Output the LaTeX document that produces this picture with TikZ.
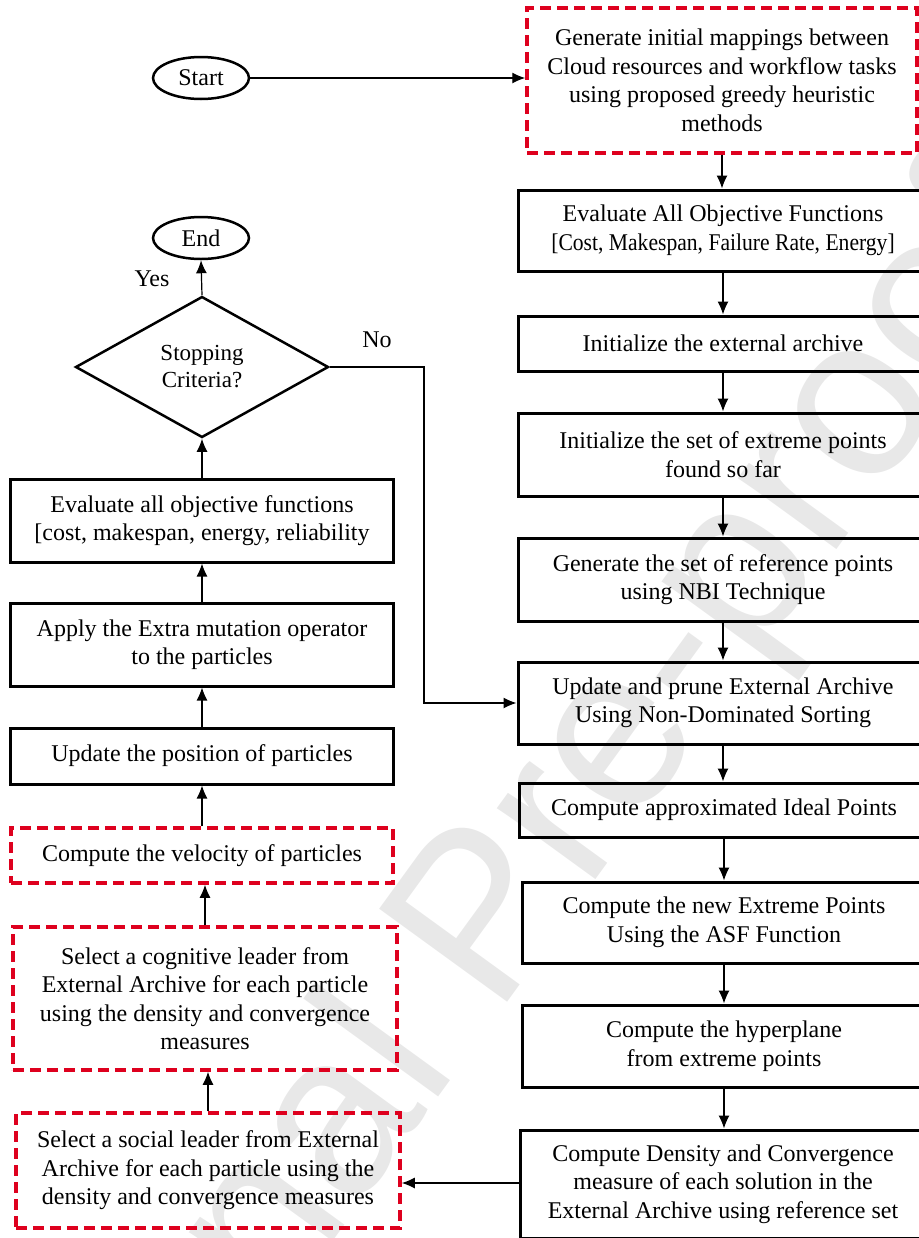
\documentclass[tikz,border=0pt]{standalone}
\usepackage{fontspec}
\usepackage{graphicx}
\setmainfont{Liberation Serif}
\newfontfamily\wmfont{Liberation Sans}
\usetikzlibrary{shapes.geometric,arrows.meta}
\definecolor{dashred}{RGB}{222,0,30}
\tikzset{
  txt/.style={font=\fontsize{24bp}{28.5bp}\selectfont, align=center, inner sep=0pt},
  box/.style={txt, draw, line width=3bp, rectangle},
  redbox/.style={txt, draw=dashred, line width=3.5bp, dash pattern=on 11bp off 6bp, rectangle},
  term/.style={txt, draw, ellipse, line width=2.5bp, minimum width=96bp, minimum height=42bp},
  decision/.style={txt, draw, diamond, line width=2.5bp, aspect=1.79, minimum width=253bp, minimum height=141bp, font=\fontsize{23bp}{27bp}\selectfont},
  arr/.style={line width=1.2bp, -{Latex[length=13bp,width=11bp]}},
  lbl/.style={txt},
}
\begin{document}
\begin{tikzpicture}[x=1bp,y=-1bp]
\useasboundingbox (0,0) rectangle (919,1238);
% watermark
\node[text=black!9, font=\wmfont\fontsize{230bp}{230bp}\selectfont, rotate=54, inner sep=0pt] (wm) at (490,925) {Journal Pre-proof};

% right column
\node[redbox, minimum width=390bp, minimum height=145bp] (b1) at (722,80.5) {Generate initial mappings between\\Cloud resources and workflow tasks\\using proposed greedy heuristic\\methods};
\node[box, minimum width=410bp, minimum height=81bp] (b2) at (723,230.5) {Evaluate All Objective Functions\\\scalebox{0.9}[1]{[Cost, Makespan, Failure Rate, Energy]}};
\node[box, minimum width=410bp, minimum height=55bp] (b3) at (723,343.5) {Initialize the external archive};
\node[box, minimum width=410bp, minimum height=83bp] (b4) at (723,454.5) {Initialize the set of extreme points\\found so far};
\node[box, minimum width=410bp, minimum height=83bp] (b5) at (723,579.5) {Generate the set of reference points\\using NBI Technique};
\node[box, minimum width=410bp, minimum height=82bp] (b6) at (723,703) {Update and prune External Archive\\Using Non-Dominated Sorting};
\node[box, minimum width=410bp, minimum height=54bp] (b7) at (724,810) {Compute approximated Ideal Points};
\node[box, minimum width=404bp, minimum height=81bp] (b8) at (724,922.5) {Compute the new Extreme Points\\Using the ASF Function};
\node[box, minimum width=404bp, minimum height=82bp] (b9) at (724,1046) {Compute the hyperplane\\from extreme points};
\node[box, minimum width=406bp, minimum height=108bp] (b10) at (723,1184) {Compute Density and Convergence\\measure of each solution in the\\External Archive using reference set};

% left column
\node[term] (start) at (201,78) {Start};
\node[term] (end) at (201,238) {End};
\node[decision] (dec) at (202,367) {Stopping\\Criteria?};
\node[box, minimum width=382bp, minimum height=83bp] (l1) at (202,520.5) {Evaluate all objective functions\\{[}cost, makespan, energy, reliability};
\node[box, minimum width=382bp, minimum height=83bp] (l2) at (202,644.5) {Apply the Extra mutation operator\\to the particles};
\node[box, minimum width=382bp, minimum height=56bp] (l3) at (202,756) {Update the position of particles};
\node[redbox, minimum width=382bp, minimum height=55bp] (l4) at (202,855.5) {Compute the velocity of particles};
\node[redbox, minimum width=384bp, minimum height=143bp] (l5) at (205,998.5) {Select a cognitive leader from\\External Archive for each particle\\using the density and convergence\\measures};
\node[redbox, minimum width=384bp, minimum height=115bp] (l6) at (208,1170.5) {Select a social leader from External\\Archive for each particle using the\\density and convergence measures};

\node[lbl] (yes) at (152,279) {Yes};
\node[lbl] (no) at (377,340) {No};
\coordinate (nc1) at (424,367);

% connectors right
\draw[arr] (start.east) -- (start.east -| b1.west);
\draw[arr] (b1.south) -- (b1.south |- b2.north);
\draw[arr] (b2.south) -- (b2.south |- b3.north);
\draw[arr] (b3.south) -- (b3.south |- b4.north);
\draw[arr] (b4.south) -- (b4.south |- b5.north);
\draw[arr] (b5.south) -- (b5.south |- b6.north);
\draw[arr] (b6.south) -- (b6.south |- b7.north);
\draw[arr] (b7.south) -- (b7.south |- b8.north);
\draw[arr] (b8.south) -- (b8.south |- b9.north);
\draw[arr] (b9.south) -- (b9.south |- b10.north);
\draw[arr] (b10.west |- 0,1183) -- (l6.east |- 0,1183);
% connectors left
\draw[arr] (l6.north) -- (l6.north |- l5.south);
\draw[arr] (l5.north) -- (l5.north |- l4.south);
\draw[arr] (l4.north) -- (l4.north |- l3.south);
\draw[arr] (l3.north) -- (l3.north |- l2.south);
\draw[arr] (l2.north) -- (l2.north |- l1.south);
\draw[arr] (l1.north) -- (dec.south);
\draw[arr] (dec.north) -- (end.south);
\draw[arr] (dec.east) -- (dec.east -| nc1) -- (nc1 |- b6.west) -- (b6.west);
\end{tikzpicture}
\end{document}
